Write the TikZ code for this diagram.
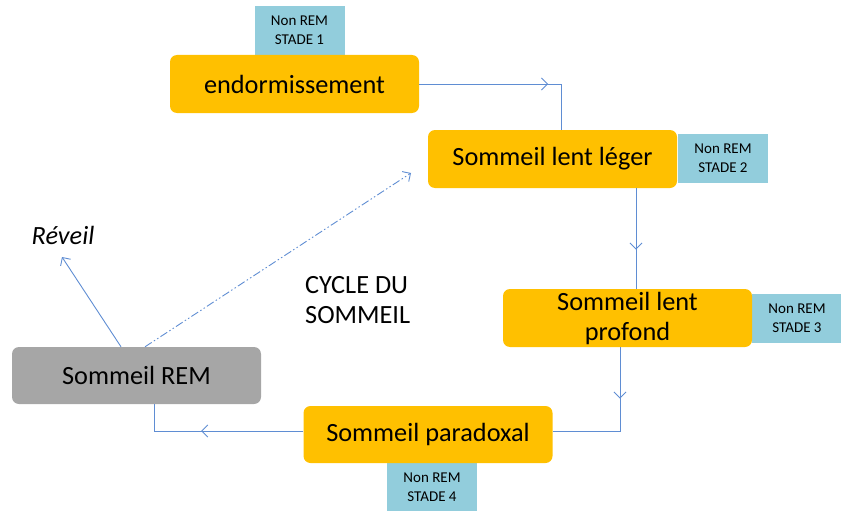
\documentclass[tikz,border=0pt]{standalone}
\usepackage{fontspec}
\setmainfont{Carlito}
\usetikzlibrary{arrows.meta,decorations.markings}
\definecolor{boxorange}{HTML}{FFC000}
\definecolor{boxgray}{HTML}{A6A6A6}
\definecolor{tagblue}{HTML}{92CDDC}
\definecolor{linkblue}{HTML}{5F8DD3}
\tikzset{
  stage/.style={rectangle, rounded corners=7pt, fill=boxorange, minimum width=249pt, minimum height=58pt, inner sep=0pt, align=center, font=\fontsize{26.3}{30}\selectfont},
  remstage/.style={stage, fill=boxgray},
  tag/.style={rectangle, fill=tagblue, minimum width=90pt, minimum height=49pt, inner sep=0pt, align=center, font=\fontsize{15}{19}\selectfont},
  conn/.style={draw=linkblue, line width=0.9pt},
  midarrow/.style={conn, postaction={decorate}, decoration={markings, mark=at position #1 with {\arrow[linkblue, line width=0.9pt]{Straight Barb[length=6pt,width=12pt]}}}},
  endarrow/.style={conn, -{Straight Barb[length=6pt,width=12pt]}},
}
\begin{document}
\begin{tikzpicture}[x=1pt,y=-1pt]
\useasboundingbox (0,0) rectangle (841,511);
% tags
\node[tag] (t1) at (299.5,30.5) {Non REM\\STADE 1};
\node[tag] (t2) at (723,158.5) {Non REM\\STADE 2};
\node[tag] (t3) at (797,318) {Non REM\\STADE 3};
\node[tag] (t4) at (432,487) {Non REM\\STADE 4};
% stages
\node[stage] (endo) at (294.5,84) {endormissement};
\node[stage] (leger) at (552.5,159) {Sommeil lent léger};
\node[stage] (prof) at (627.5,318) {Sommeil lent\\profond};
\node[stage, minimum height=57pt] (para) at (428,434.5) {Sommeil paradoxal};
\node[remstage, minimum height=57pt] (rem) at (136.5,375.5) {Sommeil REM};
% texts
\node[font=\fontsize{26.3}{30}\selectfont\itshape, inner sep=0pt] (rev) at (63,235) {Réveil};
\node[font=\fontsize{26.3}{30}\selectfont, align=left, anchor=north west, inner sep=0pt] (cyc) at (305,276) {CYCLE DU\\SOMMEIL};
\coordinate (revtip) at (62,257);
\coordinate (cyctip) at (411,173);
% connectors
\draw[midarrow=0.685] (endo.east) -| (leger.north -| 561.5,0);
\draw[midarrow=0.61] ([xshift=83.5pt]leger.south) -- ([xshift=83.5pt]leger.south |- prof.north);
\draw[midarrow=0.34] ([xshift=-7.5pt]prof.south) |- ([yshift=3.5pt]para.east);
\draw[midarrow=0.58] ([yshift=3.5pt]para.west) -| ([xshift=17.5pt]rem.south);
\draw[endarrow] ([xshift=-15.5pt]rem.north) -- (revtip);
\draw[endarrow, dash pattern=on 8pt off 2.5pt on 1.5pt off 2.5pt on 1.5pt off 2.5pt] ([xshift=8.5pt]rem.north) -- (cyctip);
\end{tikzpicture}
\end{document}
